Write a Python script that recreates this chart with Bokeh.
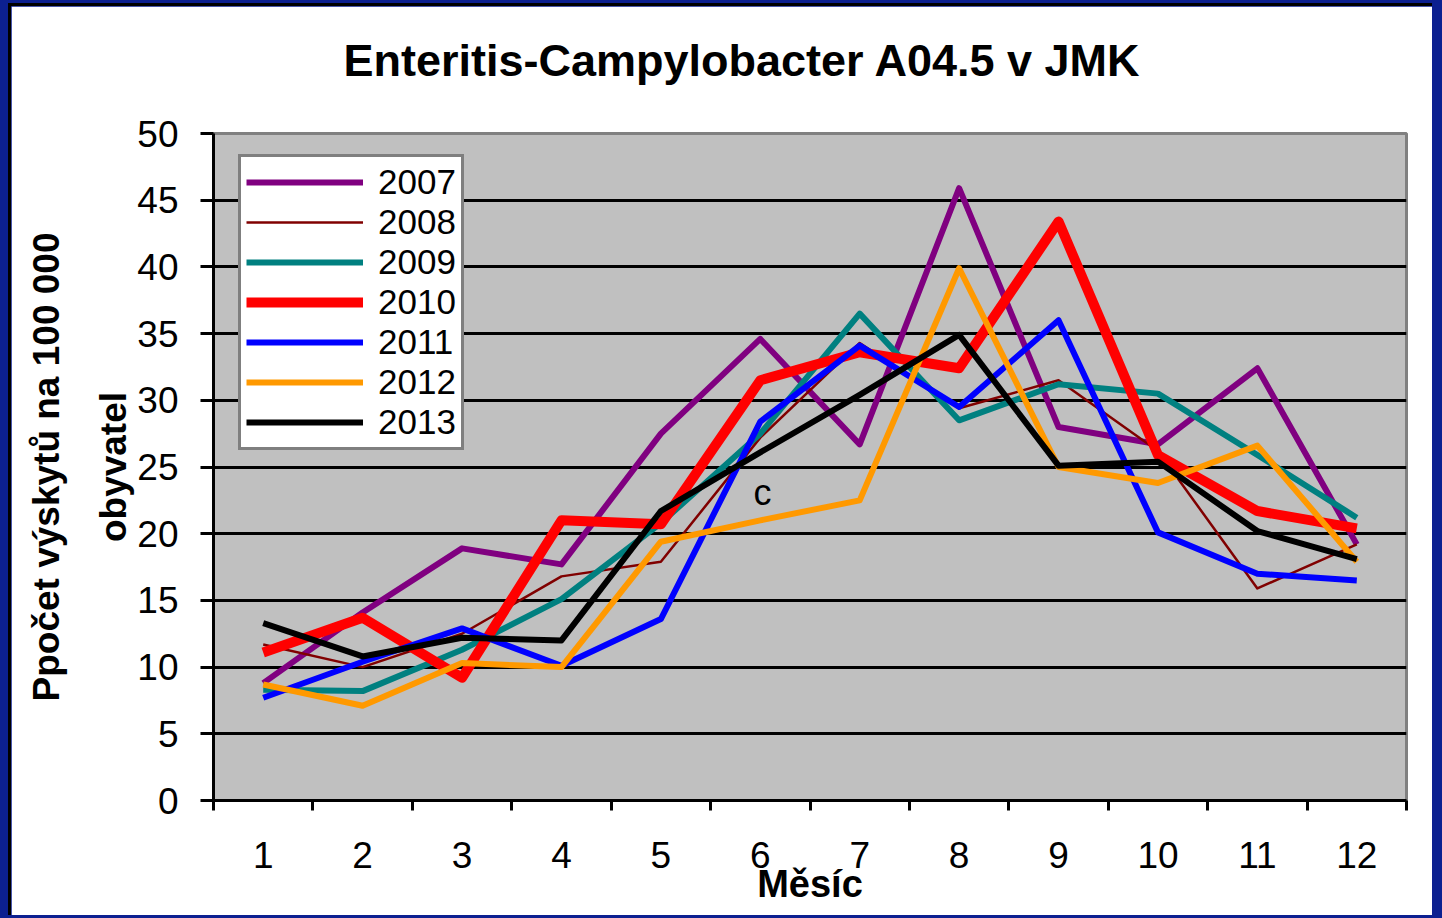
from bokeh.plotting import figure
from bokeh.models import Range1d, FixedTicker, Label, Legend, LegendItem, Title
from bokeh.embed import file_html
from bokeh.resources import INLINE

# ---------------- data ----------------
months = [1, 2, 3, 4, 5, 6, 7, 8, 9, 10, 11, 12]
month_labels = ["1", "2", "3", "4", "5", "6", "7", "8", "9", "10", "11", "12"]
years = ["2007", "2008", "2009", "2010", "2011", "2012", "2013"]

y2007 = [8.8, 14.1, 18.9, 17.7, 27.5, 34.6, 26.7, 45.9, 28.0, 26.7, 32.4, 19.2]
y2008 = [11.7, 10.0, 12.5, 16.8, 17.9, 27.2, 34.3, 29.4, 31.5, 26.2, 15.9, 19.2]
y2009 = [8.3, 8.2, 11.3, 15.1, 20.8, 27.5, 36.5, 28.5, 31.2, 30.5, 25.9, 21.2]
y2010 = [11.1, 13.7, 9.2, 21.0, 20.7, 31.5, 33.6, 32.4, 43.4, 25.9, 21.7, 20.4]
y2011 = [7.7, 10.4, 12.9, 10.1, 13.6, 28.4, 34.1, 29.5, 36.0, 20.1, 17.0, 16.5]
y2012 = [8.7, 7.1, 10.3, 10.0, 19.4, 21.0, 22.5, 39.9, 25.0, 23.8, 26.6, 17.9]
y2013 = [13.3, 10.8, 12.2, 12.0, 21.7, 26.1, 30.4, 34.9, 25.1, 25.4, 20.2, 18.1]

series = [y2007, y2008, y2009, y2010, y2011, y2012, y2013]
colors = ["#800080", "#800000", "#008080", "#FF0000", "#0000FF", "#FF9900", "#000000"]
widths = [6, 2.5, 6, 10, 6, 6, 6]

y_ticks = [0, 5, 10, 15, 20, 25, 30, 35, 40, 45, 50]
grid_ticks = [5, 10, 15, 20, 25, 30, 35, 40, 45]
boundaries = [0.5 + i for i in range(13)]

title_text = "Enteritis-Campylobacter A04.5 v JMK"
ylabel_text = "Ppočet výskytů na 100 000\nobyvatel"
xlabel = "Měsíc"
stray = "c"

FONT = "Liberation Sans"

# ---------------- figure ----------------
p = figure(width=1424, height=912,
           x_range=Range1d(0.5, 12.5), y_range=Range1d(0, 50),
           output_backend="svg", toolbar_location=None,
           min_border_left=202, min_border_right=29,
           min_border_top=127, min_border_bottom=118,
           background_fill_color="#C0C0C0", border_fill_color="white")

p.styles = {"border-left": "3px solid black", "border-top": "3px solid black"}

p.outline_line_color = "#808080"
p.outline_line_width = 3

# title (outermost in the top panel)
p.title.text = title_text
p.title.align = "left"
p.title.offset = 130
p.title.standoff = 0
p.title.text_font = FONT
p.title.text_font_size = "45px"
p.title.text_font_style = "bold"
p.title.text_color = "black"

# blank spacer between title and plot area
p.add_layout(Title(text=" ", text_font_size="20px", standoff=24,
                   text_color="white"), "above")

p.xgrid.visible = False
p.ygrid.ticker = FixedTicker(ticks=grid_ticks)
p.ygrid.grid_line_color = "black"
p.ygrid.grid_line_width = 3

# y axis
ya = p.yaxis[0]
ya.ticker = FixedTicker(ticks=y_ticks)
ya.axis_line_width = 3
ya.axis_line_color = "black"
ya.major_tick_line_width = 3
ya.major_tick_out = 13
ya.major_tick_in = 0
ya.minor_tick_line_color = None
ya.major_label_standoff = 22
ya.major_label_text_font = FONT
ya.major_label_text_font_size = "37px"
ya.major_label_text_color = "black"
ya.axis_label = ylabel_text
ya.axis_label_text_font = FONT
ya.axis_label_text_font_size = "37px"
ya.axis_label_text_font_style = "bold"
ya.axis_label_text_color = "black"
ya.axis_label_text_line_height = 1.65
ya.axis_label_standoff = 0

# x axis
xa = p.xaxis[0]
xa.ticker = FixedTicker(ticks=months, minor_ticks=boundaries)
xa.major_label_overrides = {m: l for m, l in zip(months, month_labels)}
xa.axis_line_width = 3
xa.axis_line_color = "black"
xa.major_tick_line_color = None
xa.major_tick_out = 10
xa.major_tick_in = 0
xa.minor_tick_line_color = "black"
xa.minor_tick_line_width = 3
xa.minor_tick_out = 10
xa.minor_tick_in = 0
xa.major_label_standoff = 31
xa.major_label_text_font = FONT
xa.major_label_text_font_size = "37px"
xa.major_label_text_color = "black"
xa.axis_label = xlabel
xa.axis_label_text_font = FONT
xa.axis_label_text_font_size = "38px"
xa.axis_label_text_font_style = "bold"
xa.axis_label_text_color = "black"
xa.axis_label_standoff = -8

# lines
items = []
for yr, ys, c, w in zip(years, series, colors, widths):
    r = p.line(months, ys, line_color=c, line_width=w, line_join="round")
    items.append(LegendItem(label=yr, renderers=[r]))

legend = Legend(items=items, location=(25, 350),
                label_text_font=FONT, label_text_font_size="35px",
                label_text_color="black",
                glyph_width=117, glyph_height=20, label_standoff=15,
                spacing=0, padding=5, margin=0,
                border_line_color="black", border_line_width=3,
                background_fill_color="white", background_fill_alpha=1.0)
p.add_layout(legend)

p.add_layout(Label(x=6.022, y=23.1, text=stray, text_font=FONT,
                   text_font_size="36px", text_align="center",
                   text_baseline="alphabetic", text_color="black"))

html = file_html(p, INLINE)
style = ("<style>html,body{margin:0;padding:0;background:#0c2090;overflow:hidden}"
         "body{padding:3px 0 0 8px}</style>")
html = html.replace("</head>", style + "</head>", 1)
open("out.html", "w").write(html)
